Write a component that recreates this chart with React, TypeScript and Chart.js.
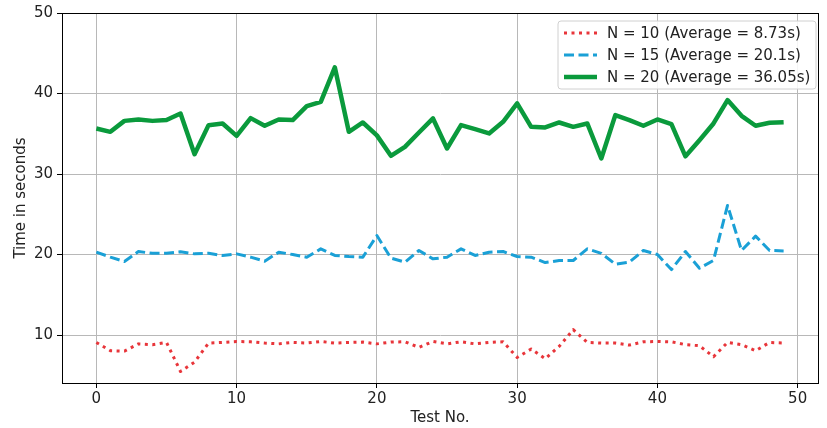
import React, { useEffect, useRef } from "react";
import { Chart, registerables } from "chart.js";

Chart.register(...registerables);

const testNo: number[] = Array.from({ length: 50 }, (_, i) => i);

const n10: number[] = [
  9.08, 8.05, 8.0, 8.9, 8.8, 9.08, 5.47, 6.63, 9.0, 9.08,
  9.2, 9.16, 9.0, 8.9, 9.08, 9.0, 9.2, 9.0, 9.08, 9.12,
  8.9, 9.12, 9.16, 8.46, 9.2, 8.9, 9.16, 8.9, 9.08, 9.16,
  7.22, 8.26, 7.05, 8.59, 10.66, 9.08, 9.0, 9.0, 8.75, 9.16,
  9.2, 9.16, 8.8, 8.67, 7.3, 9.08, 8.8, 8.05, 9.08, 9.0,
];

const n15: number[] = [
  20.29, 19.67, 19.13, 20.37, 20.15, 20.15, 20.33, 20.08, 20.15, 19.88,
  20.08, 19.67, 19.17, 20.29, 20.0, 19.67, 20.7, 19.88, 19.75, 19.67,
  22.36, 19.55, 19.05, 20.5, 19.46, 19.67, 20.7, 19.88, 20.29, 20.37,
  19.75, 19.67, 19.0, 19.26, 19.26, 20.7, 20.15, 18.8, 19.05, 20.5,
  20.0, 18.13, 20.37, 18.3, 19.26, 26.1, 20.5, 22.28, 20.5, 20.45,
];

const n20: number[] = [
  35.66, 35.24, 36.6, 36.78, 36.6, 36.7, 37.52, 32.46, 36.07, 36.28,
  34.74, 36.94, 35.99, 36.78, 36.7, 38.43, 38.97, 43.25, 35.24, 36.4,
  34.8, 32.26, 33.37, 35.16, 36.9, 33.17, 36.07, 35.57, 35.04, 36.48,
  38.77, 35.86, 35.78, 36.4, 35.86, 36.28, 31.93, 37.31, 36.7, 35.99,
  36.78, 36.2, 32.2, 34.2, 36.28, 39.18, 37.23, 35.99, 36.36, 36.44,
];

const seriesLabels: string[] = [
  "N = 10 (Average = 8.73s)",
  "N = 15 (Average = 20.1s)",
  "N = 20 (Average = 36.05s)",
];

const xTicks: number[] = [0, 10, 20, 30, 40, 50];
const yTicks: number[] = [10, 20, 30, 40, 50];

const COLORS = ["#e8353a", "#1aa0d6", "#0a9a3c"];
const WIDTHS = [3, 3, 4.5];
const DASHES: number[][] = [[3, 4.5], [10, 4.5], []];
const FONT = "'DejaVu Sans', sans-serif";
const FS = 15;

const framePlugin = {
  id: "frameAndLegend",
  afterDraw(chart: any) {
    const { ctx, chartArea } = chart;
    ctx.save();
    ctx.strokeStyle = "#000";
    ctx.lineWidth = 1;
    ctx.strokeRect(
      Math.round(chartArea.left) + 0.5,
      Math.round(chartArea.top) + 0.5,
      Math.round(chartArea.right - chartArea.left),
      Math.round(chartArea.bottom - chartArea.top)
    );

    // legend box
    const bx = 558, by = 21, bw = 258, bh = 68, r = 3;
    ctx.beginPath();
    ctx.moveTo(bx + r, by);
    ctx.lineTo(bx + bw - r, by);
    ctx.arcTo(bx + bw, by, bx + bw, by + r, r);
    ctx.lineTo(bx + bw, by + bh - r);
    ctx.arcTo(bx + bw, by + bh, bx + bw - r, by + bh, r);
    ctx.lineTo(bx + r, by + bh);
    ctx.arcTo(bx, by + bh, bx, by + bh - r, r);
    ctx.lineTo(bx, by + r);
    ctx.arcTo(bx, by, bx + r, by, r);
    ctx.closePath();
    ctx.fillStyle = "rgba(255,255,255,0.85)";
    ctx.fill();
    ctx.strokeStyle = "#d0d0d0";
    ctx.lineWidth = 1;
    ctx.stroke();

    const rows = [33, 55, 77];
    chart.data.datasets.forEach((ds: any, i: number) => {
      const y = rows[i];
      ctx.beginPath();
      ctx.setLineDash(ds.borderDash || []);
      ctx.lineWidth = ds.borderWidth;
      ctx.strokeStyle = ds.borderColor;
      ctx.moveTo(564, y);
      ctx.lineTo(597, y);
      ctx.stroke();
      ctx.setLineDash([]);
      ctx.fillStyle = "#222";
      ctx.font = `${FS}px ${FONT}`;
      ctx.textBaseline = "middle";
      ctx.textAlign = "left";
      ctx.fillText(ds.label, 607, y + 1);
    });
    ctx.restore();
  },
};

export default function App() {
  const canvasRef = useRef<HTMLCanvasElement | null>(null);

  useEffect(() => {
    document.body.style.margin = "0";
    const canvas = canvasRef.current;
    if (!canvas) return;
    const seriesData = [n10, n15, n20];
    const chart = new Chart(canvas, {
      type: "line",
      data: {
        datasets: seriesData.map((arr, i) => ({
          label: seriesLabels[i],
          data: arr.map((v, j) => ({ x: testNo[j], y: v })),
          borderColor: COLORS[i],
          backgroundColor: COLORS[i],
          borderWidth: WIDTHS[i],
          borderDash: DASHES[i],
          borderCapStyle: "butt" as const,
          borderJoinStyle: "round" as const,
          pointRadius: 0,
          tension: 0,
          fill: false,
        })),
      },
      options: {
        animation: false,
        responsive: false,
        maintainAspectRatio: false,
        layout: { padding: { top: 13, right: 9, left: 0, bottom: 0 } },
        plugins: {
          legend: { display: false },
          tooltip: { enabled: false },
        },
        scales: {
          x: {
            type: "linear",
            min: -2.45,
            max: 51.45,
            afterBuildTicks: (s: any) => {
              s.ticks = xTicks.map((v) => ({ value: v }));
            },
            afterFit: (s: any) => {
              s.height = 45;
            },
            grid: {
              color: "#b8b8b8",
              lineWidth: 1,
              tickColor: "#000",
              tickLength: 5,
              drawTicks: true,
            },
            border: { display: true, color: "#000", width: 1 },
            ticks: {
              color: "#222",
              font: { family: FONT, size: FS },
              padding: 2,
              maxRotation: 0,
              autoSkip: false,
            },
            title: {
              display: true,
              text: "Test No.",
              color: "#222",
              font: { family: FONT, size: FS },
              padding: { top: 0, bottom: 1 },
            },
          },
          y: {
            type: "linear",
            min: 4.04,
            max: 50,
            afterBuildTicks: (s: any) => {
              s.ticks = yTicks.map((v) => ({ value: v }));
            },
            afterFit: (s: any) => {
              s.width = 62;
            },
            grid: {
              color: "#b8b8b8",
              lineWidth: 1,
              tickColor: "#000",
              tickLength: 5,
              drawTicks: true,
            },
            border: { display: true, color: "#000", width: 1 },
            ticks: {
              color: "#222",
              font: { family: FONT, size: FS },
              padding: 4,
              autoSkip: false,
            },
            title: {
              display: true,
              text: "Time in seconds",
              color: "#222",
              font: { family: FONT, size: FS },
              padding: { top: 12, bottom: 0 },
            },
          },
        },
      },
      plugins: [framePlugin],
    });
    return () => chart.destroy();
  }, []);

  return (
    <div style={{ position: "fixed", left: 0, top: 0, width: 827, height: 428, background: "#fff" }}>
      <canvas ref={canvasRef} width={827} height={428} style={{ width: 827, height: 428 }} />
    </div>
  );
}
